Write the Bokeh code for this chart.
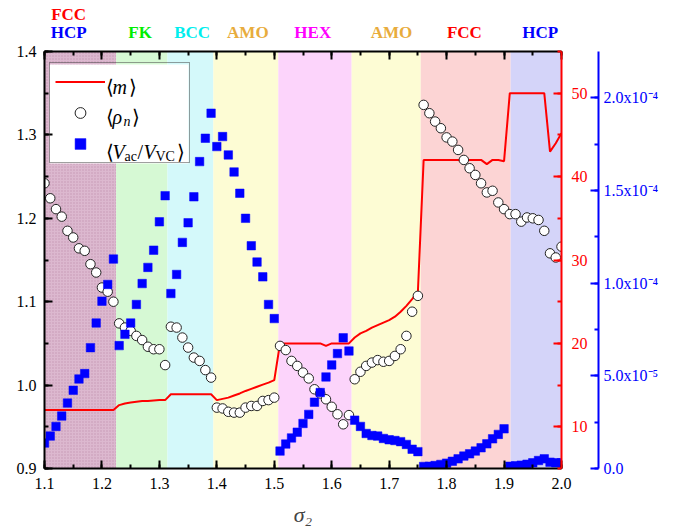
from bokeh.plotting import figure
from bokeh.layouts import column
from bokeh.models import (Range1d, LinearAxis, SingleIntervalTicker, Legend,
                          LegendItem, CustomJSTickFormatter, NumeralTickFormatter, ColumnDataSource)
from bokeh.core.properties import value
from bokeh.embed import file_html
from bokeh.resources import INLINE

# ---------------- data ----------------
sigma2 = [1.10, 1.11, 1.12, 1.13, 1.14, 1.15, 1.16, 1.17, 1.18, 1.19,
          1.20, 1.21, 1.22, 1.23, 1.24, 1.25, 1.26, 1.27, 1.28, 1.29,
          1.30, 1.31, 1.32, 1.33, 1.34, 1.35, 1.36, 1.37, 1.38, 1.39,
          1.40, 1.41, 1.42, 1.43, 1.44, 1.45, 1.46, 1.47, 1.48, 1.49,
          1.50, 1.51, 1.52, 1.53, 1.54, 1.55, 1.56, 1.57, 1.58, 1.59,
          1.60, 1.61, 1.62, 1.63, 1.64, 1.65, 1.66, 1.67, 1.68, 1.69,
          1.70, 1.71, 1.72, 1.73, 1.74, 1.75, 1.76, 1.77, 1.78, 1.79,
          1.80, 1.81, 1.82, 1.83, 1.84, 1.85, 1.86, 1.87, 1.88, 1.89,
          1.90, 1.91, 1.92, 1.93, 1.94, 1.95, 1.96, 1.97, 1.98, 1.99, 2.00]

rho_n = [1.242, 1.224, 1.211, 1.202, 1.185, 1.177, 1.164, 1.161, 1.145, 1.135,
         1.117, 1.112, 1.100, 1.074, 1.069, 1.065, 1.059, 1.054, 1.046, 1.043,
         1.043, 1.024, 1.070, 1.069, 1.057, 1.045, 1.033, 1.029, 1.018, 1.009,
         0.973, 0.972, 0.968, 0.967, 0.967, 0.973, 0.975, 0.975, 0.981, 0.982,
         0.985, 1.047, 1.042, 1.029, 1.023, 1.015, 1.008, 0.995, 0.990, 0.983,
         0.974, 0.965, 0.953, 0.964, 1.007, 1.016, 1.023, 1.027, 1.030, 1.028,
         1.029, 1.035, 1.043, 1.059, 1.088, 1.107, 1.336, 1.326, 1.316, 1.308,
         1.297, 1.292, 1.282, 1.270, 1.260, 1.252, 1.242, 1.231, 1.233, 1.219,
         1.211, 1.205, 1.205, 1.196, 1.201, 1.200, 1.198, 1.185, 1.158, 1.153, 1.166]

m_mean = [12.0, 12.0, 12.0, 12.0, 12.0, 12.0, 12.0, 12.0, 12.0, 12.0,
          12.0, 12.0, 12.0, 12.6, 12.8, 12.9, 13.0, 13.1, 13.1, 13.15,
          13.2, 13.2, 13.9, 13.9, 13.9, 13.9, 13.9, 13.9, 13.9, 13.9,
          13.2, 13.35, 13.5, 13.75, 14.0, 14.3, 14.55, 14.8, 15.05, 15.3,
          15.6, 20.0, 20.0, 20.0, 20.0, 20.0, 20.0, 20.0, 20.0, 19.7,
          20.0, 20.0, 20.0, 20.0, 20.7, 21.2, 21.5, 21.9, 22.2, 22.5,
          22.8, 23.2, 23.8, 24.5, 25.3, 26.2, 42.0, 42.0, 42.0, 42.0,
          42.0, 42.0, 42.0, 41.85, 42.0, 42.0, 42.0, 41.5, 42.0, 42.0,
          41.85, 50.0, 50.0, 50.0, 50.0, 50.0, 50.0, 50.0, 43.0, 44.0, 45.2]

v_ratio = [1.37e-5, 1.75e-5, 2.27e-5, 2.83e-5, 3.53e-5, 4.22e-5, 4.83e-5, 5.12e-5, 6.52e-5, 7.85e-5,
           9.03e-5, 9.93e-5, 11.30e-5, 6.63e-5, 7.24e-5, 7.85e-5, 8.85e-5, 9.98e-5, 10.85e-5, 11.78e-5,
           13.31e-5, 14.72e-5, 9.44e-5, 10.47e-5, 12.20e-5, 13.26e-5, 14.66e-5, 16.56e-5, 17.82e-5, 19.17e-5,
           17.37e-5, 17.91e-5, 16.92e-5, 16.00e-5, 14.85e-5, 13.50e-5, 12.02e-5, 11.14e-5, 10.34e-5, 8.85e-5,
           8.09e-5, 0.94e-5, 1.32e-5, 1.65e-5, 1.96e-5, 2.43e-5, 2.92e-5, 3.58e-5, 4.10e-5, 4.94e-5,
           5.59e-5, 6.20e-5, 7.05e-5, 6.34e-5, 2.61e-5, 2.27e-5, 1.89e-5, 1.78e-5, 1.75e-5, 1.62e-5,
           1.55e-5, 1.51e-5, 1.45e-5, 1.30e-5, 1.04e-5, 0.91e-5, 0.11e-5, 0.12e-5, 0.16e-5, 0.22e-5,
           0.29e-5, 0.39e-5, 0.52e-5, 0.67e-5, 0.79e-5, 0.94e-5, 1.12e-5, 1.33e-5, 1.60e-5, 1.84e-5,
           2.14e-5, 0.12e-5, 0.15e-5, 0.18e-5, 0.23e-5, 0.31e-5, 0.43e-5, 0.52e-5, 0.34e-5, 0.31e-5, 0.31e-5]

phase_names = ["HCP", "FK", "BCC", "AMO", "HEX", "AMO", "FCC", "HCP"]
phase_start = [1.100, 1.2247, 1.314, 1.394, 1.507, 1.6347, 1.755, 1.9115]
phase_end = [1.2247, 1.314, 1.394, 1.507, 1.6347, 1.755, 1.9115, 2.000]
phase_fill = ["#dcb8cf", "#d6f9d4", "#d4f9fa", "#fdfcd4", "#fcd4fb", "#fdfcd4", "#fcd4d4", "#d4d4f9"]
phase_text_color = ["#0000ff", "#00ee00", "#00eeee", "#e8ac3c", "#ff00ff", "#e8ac3c", "#ff0000", "#0000ff"]
phase_label_x = [1.142, 1.2665, 1.357, 1.454, 1.567, 1.704, 1.831, 1.963]
extra_label = "FCC"          # second phase written above the first band
extra_label_color = "#ff0000"

SERIF = "Liberation Serif"
FRAME_W, FRAME_H = 517, 417
X0, X1, Y0, Y1 = 1.1, 2.0, 0.9, 1.4

# ---------------- phase-label strip ----------------
TOP_H = 42
top_fig = figure(frame_width=FRAME_W, frame_height=TOP_H, output_backend="svg", toolbar_location=None,
                 x_range=Range1d(X0, X1), y_range=Range1d(0, TOP_H),
                 x_axis_location=None, y_axis_location=None,
                 min_border_left=44, min_border_right=0, min_border_top=0, min_border_bottom=0,
                 background_fill_color="white", border_fill_color="white")
top_fig.outline_line_color = None
top_fig.xgrid.visible = False
top_fig.ygrid.visible = False
top_src = ColumnDataSource(dict(x=phase_label_x + [phase_label_x[0]],
                                y=[10] * len(phase_label_x) + [28],
                                t=phase_names + [extra_label],
                                c=phase_text_color + [extra_label_color]))
top_fig.text(x="x", y="y", text="t", text_color="c", source=top_src,
             text_font=value(SERIF), text_font_size=value("17px"), text_font_style="bold",
             text_align="center", text_baseline="middle")

# ---------------- main figure ----------------
p = figure(frame_width=FRAME_W, frame_height=FRAME_H, output_backend="svg", toolbar_location=None,
           x_range=top_fig.x_range, y_range=Range1d(Y0, Y1 + 1e-9),
           min_border_left=44, min_border_top=9, min_border_right=4, min_border_bottom=0,
           background_fill_color="white", border_fill_color="white")
p.outline_line_color = None
p.xgrid.visible = False
p.ygrid.visible = False
p.extra_y_ranges = {"red": Range1d(5.0, 55.0), "blue": Range1d(0.0, 2.25e-4)}

bands = ColumnDataSource(dict(left=phase_start, right=phase_end, fill=phase_fill))
p.quad(left="left", right="right", bottom=Y0, top=Y1, source=bands,
       fill_color="fill", line_color=None)
first = ColumnDataSource(dict(left=phase_start[:1], right=phase_end[:1]))
p.quad(left="left", right="right", bottom=Y0, top=Y1, source=first,
       fill_alpha=0, line_color=None, hatch_pattern="dot", hatch_color="#9a5a82",
       hatch_alpha=0.35, hatch_scale=3, hatch_weight=1)

src = ColumnDataSource(dict(x=sigma2, rho=rho_n, m=m_mean, v=v_ratio))
line_r = p.line("x", "m", source=src, y_range_name="red", line_color="#ff0000", line_width=2)
circ_r = p.scatter("x", "rho", source=src, marker="circle", size=9.5, fill_color="white",
                   line_color="#222222", line_width=1)
sq_r = p.scatter("x", "v", source=src, y_range_name="blue", marker="square", size=8.5,
                 fill_color="#0000ff", line_color="#0000ff", line_width=0.5)


def style_axis(ax, color, size="16px"):
    ax.axis_line_color = color
    ax.axis_line_width = 2
    ax.major_tick_line_color = color
    ax.minor_tick_line_color = color
    ax.major_tick_line_width = 2
    ax.minor_tick_line_width = 2
    ax.major_tick_in = 8
    ax.major_tick_out = 0
    ax.minor_tick_in = 4
    ax.minor_tick_out = 0
    ax.major_label_text_color = color
    ax.major_label_text_font = SERIF
    ax.major_label_text_font_size = size


yax = p.yaxis[0]
yax.ticker = SingleIntervalTicker(interval=0.1, num_minor_ticks=2)
yax.formatter = NumeralTickFormatter(format="0.0")
style_axis(yax, "black")
yax.major_label_standoff = 8

xax = p.xaxis[0]
xax.ticker = SingleIntervalTicker(interval=0.1, num_minor_ticks=2)
xax.formatter = NumeralTickFormatter(format="0.0")
style_axis(xax, "black")
xax.major_label_standoff = 9
xax.axis_label = "σ₂"
xax.axis_label_text_font = SERIF
xax.axis_label_text_font_style = "italic"
xax.axis_label_text_font_size = "22px"
xax.axis_label_standoff = 10

top = LinearAxis(ticker=SingleIntervalTicker(interval=0.1, num_minor_ticks=2),
                 formatter=CustomJSTickFormatter(code="return ''"))
style_axis(top, "black", size="0px")
top.major_label_standoff = 0
p.add_layout(top, "above")

# red right axis (a trailing figure space keeps room before the blue axis)
red_ax = LinearAxis(y_range_name="red", ticker=SingleIntervalTicker(interval=10, num_minor_ticks=2),
                    formatter=CustomJSTickFormatter(code="return tick.toFixed(0) + '\\u2007';"))
style_axis(red_ax, "#ff0000")
red_ax.major_label_standoff = 10
p.add_layout(red_ax, "right")

sup_code = """
if (Math.abs(tick) < 1e-12) { return "0.0"; }
const e = Math.floor(Math.log10(Math.abs(tick)) + 1e-9);
const mant = tick / Math.pow(10, e);
const sup = {"-": "\u207b", "0": "\u2070", "1": "\u00b9", "2": "\u00b2", "3": "\u00b3",
             "4": "\u2074", "5": "\u2075", "6": "\u2076", "7": "\u2077", "8": "\u2078", "9": "\u2079"};
let s = "";
for (const ch of String(e)) { s += sup[ch]; }
return mant.toFixed(1) + "x10" + s;
"""
blue_ax = LinearAxis(y_range_name="blue",
                     ticker=SingleIntervalTicker(interval=5e-5, num_minor_ticks=2),
                     formatter=CustomJSTickFormatter(code=sup_code))
style_axis(blue_ax, "#0000ff")
blue_ax.major_label_standoff = 5
p.add_layout(blue_ax, "right")


def sx(px):  # screen offset from frame left -> data x
    return X0 + px * (X1 - X0) / FRAME_W


def sy(py):  # screen offset from frame bottom -> data y
    return Y0 + py * (Y1 - Y0) / FRAME_H


# ---------------- legend ----------------
LEG_X, LEG_Y, LEG_W, LEG_H = 5, 305, 139, 99
p.quad(left=[sx(LEG_X)], right=[sx(LEG_X + LEG_W)], bottom=[sy(LEG_Y)], top=[sy(LEG_Y + LEG_H)],
       fill_color="white", line_color=None)

pieces = [("⟨", 61, 382, "20px", "normal"), ("m", 68, 382, "20px", "italic"), ("⟩", 84, 382, "20px", "normal"),
          ("⟨", 61, 352, "20px", "normal"), ("ρ", 68, 352, "20px", "italic"),
          ("n", 79, 347, "14px", "italic"), ("⟩", 87, 352, "20px", "normal"),
          ("⟨", 61, 317, "20px", "normal"), ("V", 68, 317, "20px", "italic"),
          ("ac", 80, 312, "14px", "normal"), ("/", 93, 317, "20px", "normal"),
          ("V", 99, 317, "20px", "italic"), ("VC", 111, 312, "14px", "normal"),
          ("⟩", 132, 317, "20px", "normal")]
leg_src = ColumnDataSource(dict(x=[sx(a[1]) for a in pieces], y=[sy(a[2]) for a in pieces],
                                t=[a[0] for a in pieces], fs=[a[3] for a in pieces],
                                st=[a[4] for a in pieces]))
p.text(x="x", y="y", text="t", source=leg_src, text_font=value(SERIF), text_font_size="fs",
       text_font_style="st", text_color="black", text_align="left", text_baseline="alphabetic")

legend = Legend(items=[LegendItem(label=" ", renderers=[line_r]),
                       LegendItem(label=" ", renderers=[circ_r]),
                       LegendItem(label=" ", renderers=[sq_r])],
                location=(LEG_X, LEG_Y), glyph_width=50, glyph_height=27, label_height=27,
                label_width=79, label_standoff=0, spacing=4, padding=5, margin=0,
                border_line_color="#404040", border_line_width=1,
                background_fill_alpha=0.0, label_text_font_size="10px")
p.add_layout(legend)

layout = column(top_fig, p, spacing=0)
open("out.html", "w").write(file_html(layout, INLINE))
